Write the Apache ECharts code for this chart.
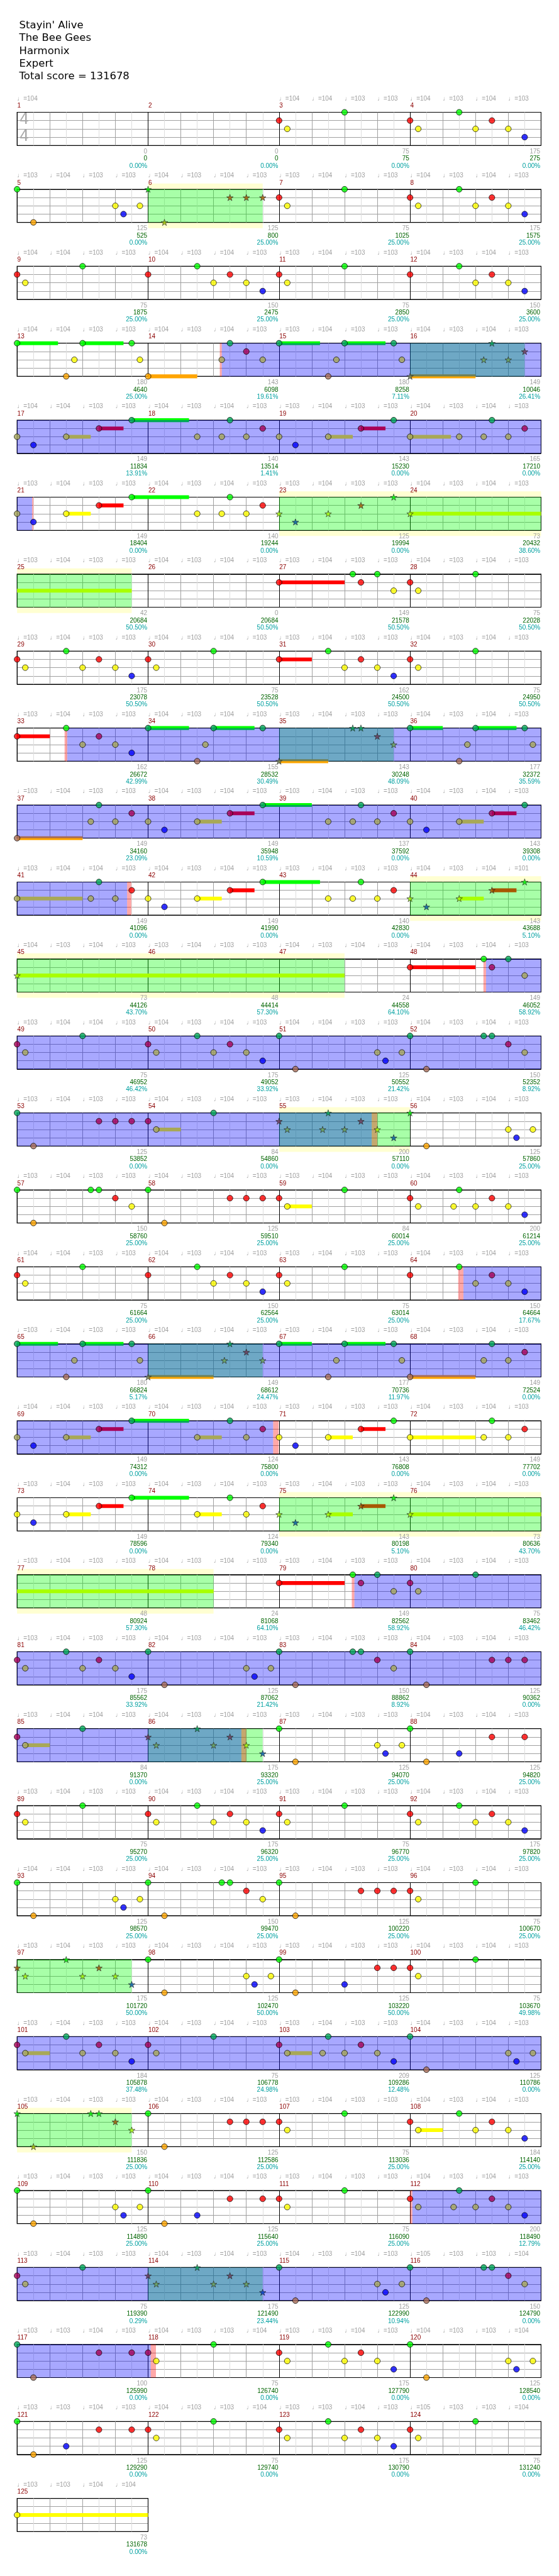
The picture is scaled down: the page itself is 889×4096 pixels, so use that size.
<!DOCTYPE html>
<html>
<head>
<meta charset="utf-8">
<script src="https://cdn.jsdelivr.net/npm/echarts@6/dist/echarts.min.js"></script>
<style>
html,body{margin:0;padding:0;background:#ffffff;}
#chart{width:889px;height:4096px;}
</style>
</head>
<body>
<div id="chart"></div>
<script>
// ================= DATA =================
const titleLines = ["Stayin' Alive", "The Bee Gees", "Harmonix", "Expert", "Total score = 131678"];
const measureCount = 125;

// tempo marks per measure, one per beat
const tempoLabels = [
  "104", "", "104 104 103 103", "104 103 104 103",
  "103 104 103 103", "104 103 104 103", "103 104 103 103", "104 103 104 103",
  "104 104 103 103", "104 103 104 103", "103 104 103 103", "104 103 104 103",
  "104 104 103 103", "104 103 104 103", "103 104 103 103", "104 103 104 103",
  "104 104 103 103", "104 103 104 103", "103 104 103 103", "104 103 104 103",
  "103 104 103 103", "104 103 104 103", "103 104 103 103", "104 103 104 103",
  "103 104 103 103", "104 103 104 103", "103 104 103 103", "104 103 104 103",
  "103 104 103 103", "104 103 104 103", "103 104 103 103", "104 103 104 103",
  "103 104 103 103", "104 103 104 103", "103 104 103 103", "104 103 104 103",
  "103 104 103 103", "104 103 104 103", "103 104 103 103", "104 103 104 103",
  "103 104 104 103", "104 103 104 103", "103 104 103 103", "104 103 104 101",
  "104 103 104 103", "103 104 103 103", "104 103 104 103", "104 103 104 103",
  "103 104 104 103", "104 103 104 103", "104 104 103 103", "104 103 104 103",
  "103 104 103 103", "104 103 104 103", "103 104 103 103", "104 103 104 103",
  "103 104 103 103", "104 103 104 103", "103 104 103 103", "104 103 104 103",
  "104 104 103 103", "104 103 104 103", "103 104 103 103", "104 103 104 103",
  "103 104 103 103", "104 103 104 103", "103 104 103 103", "104 103 104 103",
  "104 104 103 103", "104 103 104 103", "103 104 103 103", "104 103 104 103",
  "103 104 103 103", "104 103 104 103", "103 104 103 103", "104 103 104 103",
  "103 104 103 103", "104 103 104 103", "103 104 103 103", "104 103 104 103",
  "103 104 103 103", "104 103 104 103", "103 104 103 103", "104 103 104 103",
  "103 104 104 103", "104 103 104 103", "103 104 103 103", "104 103 104 103",
  "103 104 103 103", "104 103 104 103", "103 104 103 103", "104 103 104 103",
  "104 104 103 103", "104 103 104 103", "103 104 103 103", "104 103 104 103",
  "103 104 103 103", "104 103 104 103", "103 104 103 103", "104 103 104 103",
  "103 104 103 103", "104 103 104 103", "103 104 103 103", "104 103 104 103",
  "103 104 103 103", "104 103 104 103", "103 104 103 103", "104 103 104 103",
  "103 104 103 103", "104 103 104 103", "103 104 103 103", "104 103 104 103",
  "103 104 103 103", "104 103 104 103", "104 103 104 103", "105 103 103 104",
  "103 103 104 103", "104 103 103 104", "103 103 104 103", "104 103 103 104",
  "103 103 104 103", "104 103 103 104", "103 103 104 103", "105 103 103 104",
  "103 103 104 104"
];

// per-measure base score (grey), running total (green), SP percentage (teal)
const measureScores = [
  0, 0, 75, 175,  125, 125, 75, 175,  75, 150, 75, 150,  180, 143, 180, 149,
  149, 140, 143, 165,  149, 140, 125, 73,  42, 0, 149, 75,  175, 75, 162, 75,
  162, 155, 143, 177,  149, 149, 137, 143,  149, 149, 140, 143,  73, 48, 24, 149,
  75, 175, 125, 150,  125, 84, 200, 125,  150, 125, 84, 200,  75, 150, 75, 150,
  180, 149, 177, 149,  149, 124, 143, 149,  149, 124, 143, 73,  48, 24, 149, 75,
  175, 125, 150, 125,  84, 175, 125, 125,  75, 175, 75, 175,  125, 150, 125, 75,
  175, 125, 125, 75,  184, 75, 209, 125,  150, 125, 75, 184,  125, 125, 75, 200,
  75, 175, 125, 150,  100, 75, 175, 125,  125, 75, 175, 75,  73
];
const totalScores = [
  0, 0, 75, 275,  525, 800, 1025, 1575,  1875, 2475, 2850, 3600,
  4640, 6098, 8258, 10046,  11834, 13514, 15230, 17210,  18404, 19244, 19994, 20432,
  20684, 20684, 21578, 22028,  23078, 23528, 24500, 24950,  26672, 28532, 30248, 32372,
  34160, 35948, 37592, 39308,  41096, 41990, 42830, 43688,  44126, 44414, 44558, 46052,
  46952, 49052, 50552, 52352,  53852, 54860, 57110, 57860,  58760, 59510, 60014, 61214,
  61664, 62564, 63014, 64664,  66824, 68612, 70736, 72524,  74312, 75800, 76808, 77702,
  78596, 79340, 80198, 80636,  80924, 81068, 82562, 83462,  85562, 87062, 88862, 90362,
  91370, 93320, 94070, 94820,  95270, 96320, 96770, 97820,  98570, 99470, 100220, 100670,
  101720, 102470, 103220, 103670,  105878, 106778, 109286, 110786,  111836, 112586, 113036, 114140,
  114890, 115640, 116090, 118490,  119390, 121490, 122990, 124790,  125990, 126740, 127790, 128540,
  129290, 129740, 130790, 131240,  131678
];
const spPercents = [
  "0.00", "0.00", "0.00", "0.00",  "0.00", "25.00", "25.00", "25.00",  "25.00", "25.00", "25.00", "25.00",
  "25.00", "19.61", "7.11", "26.41",  "13.91", "1.41", "0.00", "0.00",  "0.00", "0.00", "0.00", "38.60",
  "50.50", "50.50", "50.50", "50.50",  "50.50", "50.50", "50.50", "50.50",  "42.99", "30.49", "48.09", "35.59",
  "23.09", "10.59", "0.00", "0.00",  "0.00", "0.00", "0.00", "5.10",  "43.70", "57.30", "64.10", "58.92",
  "46.42", "33.92", "21.42", "8.92",  "0.00", "0.00", "0.00", "25.00",  "25.00", "25.00", "25.00", "25.00",
  "25.00", "25.00", "25.00", "17.67",  "5.17", "24.47", "11.97", "0.00",  "0.00", "0.00", "0.00", "0.00",
  "0.00", "0.00", "5.10", "43.70",  "57.30", "64.10", "58.92", "46.42",  "33.92", "21.42", "8.92", "0.00",
  "0.00", "25.00", "25.00", "25.00",  "25.00", "25.00", "25.00", "25.00",  "25.00", "25.00", "25.00", "25.00",
  "50.00", "50.00", "50.00", "49.98",  "37.48", "24.98", "12.48", "0.00",  "25.00", "25.00", "25.00", "25.00",
  "25.00", "25.00", "25.00", "12.79",  "0.29", "23.44", "10.94", "0.00",  "0.00", "0.00", "0.00", "0.00",
  "0.00", "0.00", "0.00", "0.00",  "0.00"
];

// notes: [measure, beat in measure, lane (0 green,1 red,2 yellow,3 blue,4 orange), sustain length in beats]
const notes = [
  [3,0,1],[3,0.25,2],[3,2,0],
  [4,0,1],[4,0.25,2],[4,1.5,0],[4,2,2],[4,2.5,1],[4,3,2],[4,3.5,3],
  [5,0,0],[5,0.5,4],[5,3,2],[5,3.25,3],[5,3.75,2],
  [6,0,0],[6,0.5,4],[6,2.5,1],[6,3,1],[6,3.5,1],
  [7,0,1],[7,0.25,2],[7,2,0],
  [8,0,1],[8,0.25,2],[8,1.5,0],[8,2,2],[8,2.5,1],[8,3,2],[8,3.5,3],
  [9,0,1],[9,0.25,2],[9,2,0],
  [10,0,1],[10,1.5,0],[10,2,2],[10,2.5,1],[10,3,2],[10,3.5,3],
  [11,0,1],[11,0.25,2],[11,2,0],
  [12,0,1],[12,1.5,0],[12,2,2],[12,2.5,1],[12,3,2],[12,3.5,3],
  [13,0,0,1.25],[13,1.5,4],[13,1.75,2],[13,2,0,1.25],[13,3.5,0],[13,3.75,2],
  [14,0,4,1.5],[14,2.25,2],[14,2.5,0],[14,3,1],[14,3.5,2],
  [15,0,0,1.25],[15,1.5,4],[15,1.75,2],[15,2,0,1.25],[15,3.5,0],[15,3.75,2],
  [16,0,4,2],[16,2.25,2],[16,2.5,0],[16,3,2],[16,3.5,1],
  [17,0,2],[17,0.5,3],[17,1.5,2,0.75],[17,2.5,1,0.75],[17,3.5,0,1.75],
  [18,1.5,2],[18,2.25,2],[18,2.5,0],[18,3,2],[18,3.5,1],
  [19,0,2],[19,0.5,3],[19,1.5,2,0.75],[19,2.5,1,0.75],[19,3.5,0],
  [20,0,2,1.25],[20,1.5,2],[20,2.25,2],[20,2.5,0],[20,3,2],[20,3.5,1],
  [21,0,2],[21,0.5,3],[21,1.5,2,0.75],[21,2.5,1,0.75],[21,3.5,0,1.75],
  [22,1.5,2],[22,2.25,2],[22,2.5,0],[22,3,2],[22,3.5,1],
  [23,0,2],[23,0.5,3],[23,1.5,2],[23,2.5,1],[23,3.5,0],
  [24,0,2,7.5],
  [27,0,1,2],[27,2.25,0],[27,2.5,1],[27,3,0],[27,3.5,2],
  [28,0,1],[28,0.25,2],[28,2,0],
  [29,0,1],[29,0.25,2],[29,1.5,0],[29,2,2],[29,2.5,1],[29,3,2],[29,3.5,3],
  [30,0,1],[30,0.25,2],[30,2,0],
  [31,0,1,1],[31,1.5,0],[31,2,2],[31,2.5,1],[31,3,2],[31,3.5,3],
  [32,0,1],[32,0.25,2],[32,2,0],
  [33,0,1,1],[33,1.5,0],[33,2,2],[33,2.5,1],[33,3,2],[33,3.5,3],
  [34,0,0,1.25],[34,1.5,4],[34,1.75,2],[34,2,0,1.25],[34,3.5,0],
  [35,0,4,1.5],[35,2.25,0],[35,2.5,0],[35,3,1],[35,3.5,2],
  [36,0,0,1],[36,1.5,4],[36,1.75,2],[36,2,0,1.25],[36,3.5,0],[36,3.75,2],
  [37,0,4,2],[37,2.25,2],[37,2.5,0],[37,3,2],[37,3.5,1],
  [38,0,2],[38,0.5,3],[38,1.5,2,0.75],[38,2.5,1,0.75],[38,3.5,0,1.5],
  [39,1.5,2],[39,2.25,2],[39,2.5,0],[39,3,2],[39,3.5,1],
  [40,0,2],[40,0.5,3],[40,1.5,2,0.75],[40,2.5,1,0.75],[40,3.5,0],
  [41,0,2,2],[41,2.25,2],[41,2.5,0],[41,3,2],[41,3.5,1],
  [42,0,2],[42,0.5,3],[42,1.5,2,0.75],[42,2.5,1,0.75],[42,3.5,0,1.75],
  [43,1.5,2],[43,2.25,2],[43,2.5,0],[43,3,2],[43,3.5,1],
  [44,0,2],[44,0.5,3],[44,1.5,2,0.75],[44,2.5,1,0.75],[44,3.5,0],
  [45,0,2,10],
  [48,0,1,2],[48,2.25,0],[48,2.5,1],[48,3,0],[48,3.5,2],
  [49,0,1],[49,0.25,2],[49,2,0],
  [50,0,1],[50,0.25,2],[50,1.5,0],[50,2,2],[50,2.5,1],[50,3,2],[50,3.5,3],
  [51,0,0],[51,0.5,4],[51,3,2],[51,3.25,3],[51,3.75,2],
  [52,0,0],[52,0.5,4],[52,2.25,0],[52,2.5,0],[52,3,1],[52,3.5,2],
  [53,0,0],[53,0.5,4],[53,2.5,1],[53,3,1],[53,3.5,1],
  [54,0,1],[54,0.25,2,0.75],[54,2,0],
  [55,0,1],[55,0.25,2],[55,1.33,2],[55,1.5,0],[55,2,2],[55,2.5,1],[55,3,2],[55,3.5,3],
  [56,0,0],[56,0.5,4],[56,3,2],[56,3.25,3],[56,3.75,2],
  [57,0,0],[57,0.5,4],[57,2.25,0],[57,2.5,0],[57,3,1],[57,3.5,2],
  [58,0,0],[58,0.5,4],[58,2.5,1],[58,3,1],[58,3.5,1],
  [59,0,1],[59,0.25,2,0.75],[59,2,0],
  [60,0,1],[60,0.25,2],[60,1.33,2],[60,1.5,0],[60,2,2],[60,2.5,1],[60,3,2],[60,3.5,3],
  [61,0,1],[61,0.25,2],[61,2,0],
  [62,0,1],[62,1.5,0],[62,2,2],[62,2.5,1],[62,3,2],[62,3.5,3],
  [63,0,1],[63,0.25,2],[63,2,0],
  [64,0,1],[64,1.5,0],[64,2,2],[64,2.5,1],[64,3,2],[64,3.5,3],
  [65,0,0,1.25],[65,1.5,4],[65,1.75,2],[65,2,0,1.25],[65,3.5,0],[65,3.75,2],
  [66,0,4,2],[66,2.33,2],[66,2.5,0],[66,3,1],[66,3.5,2],
  [67,0,0,1],[67,1.5,4],[67,1.75,2],[67,2,0,1.25],[67,3.5,0],[67,3.75,2],
  [68,0,4,2],[68,2.25,2],[68,2.5,0],[68,3,2],[68,3.5,1],
  [69,0,2],[69,0.5,3],[69,1.5,2,0.75],[69,2.5,1,0.75],[69,3.5,0,1.75],
  [70,1.5,2,0.75],[70,2.5,0],[70,3,2],[70,3.5,1],
  [71,0,2],[71,0.5,3],[71,1.5,2,0.75],[71,2.5,1,0.75],[71,3.5,0],
  [72,0,2,2],[72,2.25,2],[72,2.5,0],[72,3,2],[72,3.5,1],
  [73,0,2],[73,0.5,3],[73,1.5,2,0.75],[73,2.5,1,0.75],[73,3.5,0,1.75],
  [74,1.5,2,0.75],[74,2.5,0],[74,3,2],[74,3.5,1],
  [75,0,2],[75,0.5,3],[75,1.5,2,0.75],[75,2.5,1,0.75],[75,3.5,0],
  [76,0,2,10],
  [79,0,1,2],[79,2.25,0],[79,2.5,1],[79,3,0],[79,3.5,2],
  [80,0,1],[80,0.25,2],[80,2,0],
  [81,0,1],[81,0.25,2],[81,1.5,0],[81,2,2],[81,2.5,1],[81,3,2],[81,3.5,3],
  [82,0,0],[82,0.5,4],[82,3,2],[82,3.25,3],[82,3.75,2],
  [83,0,0],[83,0.5,4],[83,2.25,0],[83,2.5,0],[83,3,1],[83,3.5,2],
  [84,0,0],[84,0.5,4],[84,2.5,1],[84,3,1],[84,3.5,1],
  [85,0,1],[85,0.25,2,0.75],[85,2,0],
  [86,0,1],[86,0.25,2],[86,1.5,0],[86,2,2],[86,2.5,1],[86,3,2],[86,3.5,3],
  [87,0,0],[87,0.5,4],[87,3,2],[87,3.25,3],[87,3.75,2],
  [88,0,0],[88,0.5,4],[88,1.5,3],[88,2.5,1],[88,3.5,1],
  [89,0,1],[89,0.25,2],[89,2,0],
  [90,0,1],[90,0.25,2],[90,1.5,0],[90,2,2],[90,2.5,1],[90,3,2],[90,3.5,3],
  [91,0,1],[91,0.25,2],[91,2,0],
  [92,0,1],[92,0.25,2],[92,1.5,0],[92,2,2],[92,2.5,1],[92,3,2],[92,3.5,3],
  [93,0,0],[93,0.5,4],[93,3,2],[93,3.25,3],[93,3.75,2],
  [94,0,0],[94,0.5,4],[94,2.25,0],[94,2.5,0],[94,3,1],[94,3.5,2],
  [95,0,0],[95,0.5,4],[95,2.5,1],[95,3,1],[95,3.5,1],
  [96,0,1],[96,0.25,2],[96,2,0],
  [97,0,1],[97,0.25,2],[97,1.5,0],[97,2,2],[97,2.5,1],[97,3,2],[97,3.5,3],
  [98,0,0],[98,0.5,4],[98,3,2],[98,3.25,3],[98,3.75,2],
  [99,0,0],[99,0.5,4],[99,2,3],[99,3,1],[99,3.5,1],
  [100,0,1],[100,0.25,2],[100,2,0],
  [101,0,1],[101,0.25,2,0.75],[101,1.5,0],[101,2,2],[101,2.5,1],[101,3,2],[101,3.5,3],
  [102,0,1],[102,0.25,2],[102,2,0],
  [103,0,1],[103,0.25,2,0.75],[103,1.33,2],[103,1.5,0],[103,2,2],[103,2.5,1],[103,3,2],[103,3.5,3],
  [104,0,0],[104,0.5,4],[104,3,2],[104,3.25,3],[104,3.75,2],
  [105,0,0],[105,0.5,4],[105,2.25,0],[105,2.5,0],[105,3,1],[105,3.5,2],
  [106,0,0],[106,0.5,4],[106,2.5,1],[106,3,1],[106,3.5,1],
  [107,0,1],[107,0.25,2],[107,2,0],
  [108,0,1],[108,0.25,2,0.75],[108,1.5,0],[108,2,2],[108,2.5,1],[108,3,2],[108,3.5,3],
  [109,0,0],[109,0.5,4],[109,3,2],[109,3.25,3],[109,3.75,2],
  [110,0,0],[110,0.5,4],[110,1.5,3],[110,2.5,1],[110,3.5,1],
  [111,0,1],[111,0.25,2],[111,2,0],
  [112,0,1],[112,0.25,2],[112,1.33,2],[112,1.5,0],[112,2,2],[112,2.5,1],[112,3,2],[112,3.5,3],
  [113,0,1],[113,0.25,2],[113,2,0],
  [114,0,1],[114,0.25,2],[114,1.5,0],[114,2,2],[114,2.5,1],[114,3,2],[114,3.5,3],
  [115,0,0],[115,0.5,4],[115,3,2],[115,3.25,3],[115,3.75,2],
  [116,0,0],[116,0.5,4],[116,2.25,0],[116,2.5,0],[116,3,1],[116,3.5,2],
  [117,0,0],[117,0.5,4],[117,2.5,1],[117,3.5,1],
  [118,0,1],[118,0.25,2],[118,2,0],
  [119,0,1],[119,0.25,2],[119,1.5,0],[119,2,2],[119,2.5,1],[119,3,2],[119,3.5,3],
  [120,0,0],[120,0.5,4],[120,3,2],[120,3.25,3],[120,3.75,2],
  [121,0,0],[121,0.5,4],[121,1.5,3],[121,2.5,1],[121,3.5,1],
  [122,0,1],[122,0.25,2],[122,2,0],
  [123,0,1],[123,0.25,2],[123,1.5,0],[123,2,2],[123,2.5,1],[123,3,2],[123,3.5,3],
  [124,0,1],[124,0.25,2],[124,2,0],
  [125,0,2,4]
];

// shaded spans: [startMeasure, startBeat, endMeasure, endBeat]
const greenRegions = [
  [6,0,6,3.5],[16,0,16,3.5],[23,0,25,3.5],[35,0,35,3.5],[44,0,47,2],[55,0,56,0],
  [66,0,66,3.5],[75,0,78,2],[86,0,86,3.5],[97,0,97,3.5],[105,0,105,3.5],[114,0,114,3.5]
];
const yellowBands = [
  [6,0,6,3.5],[23,0,25,3.5],[44,0,47,2],[55,0,56,0],[75,0,78,2],[105,0,105,3.5]
];
const blueRegions = [
  [14,2.25,21,0.46],[33,1.53,41,3.36],[48,2.32,55,2.83],[64,1.63,70,3.82],
  [79,2.3,86,2.85],[101,0,104,3.99],[112,0.07,118,0.08]
];
const pinkMarkers = [
  [14,2.19,14,2.25],[21,0.46,21,0.5],[33,1.45,33,1.53],[41,3.36,41,3.49],
  [48,2.24,48,2.32],[55,2.83,55,3.0],[64,1.47,64,1.63],[70,3.82,70,3.99],
  [79,2.22,79,2.3],[86,2.85,86,3.0],[112,0,112,0.07],[118,0.08,118,0.24]
];

// ================= LAYOUT / STYLE =================
const S = 0.868;
const LEFT = 31.3, TOP0 = 205.7, STEP = 141, TRACK_H = 60.7, MEAS_W = 240;
const BEATS = 4, PER_ROW = 4, ROW_BEATS = BEATS * PER_ROW;
const nRows = Math.ceil(measureCount / PER_ROW);
const LANE_RGB = [[0,255,0],[255,0,0],[255,255,0],[0,0,255],[255,165,0]];
const GREEN_OV = [0,255,0], BLUE_OV = [0,0,255], OV_A = 0.34;
const STAR = 'path://M50 0L61.2 34.5L97.6 34.5L68.2 55.9L79.4 90.5L50 69.1L20.6 90.5L31.8 55.9L2.4 34.5L38.8 34.5Z';
const SMALL_FONT = '10px "Liberation Sans", Arial, sans-serif';

const rgb = c => 'rgb(' + c[0] + ',' + c[1] + ',' + c[2] + ')';
const mix = (c, o, a) => c.map((v, i) => Math.round(v * (1 - a) + o[i] * a));
const gbOf = (m, b) => (m - 1) * BEATS + b;
const toGB = list => list.map(r => [gbOf(r[0], r[1]), gbOf(r[2], r[3])]);
const G_R = toGB(greenRegions), B_R = toGB(blueRegions), P_R = toGB(pinkMarkers), Y_R = toGB(yellowBands);
const inside = (list, g) => list.some(r => g >= r[0] - 1e-6 && g <= r[1] + 1e-6);

function splitRows(g0, g1, cb) {
  const r0 = Math.floor(g0 / ROW_BEATS), r1 = Math.floor((g1 - 1e-9) / ROW_BEATS);
  for (let r = r0; r <= r1; r++) {
    const a = Math.max(g0, r * ROW_BEATS) - r * ROW_BEATS;
    const b = Math.min(g1, (r + 1) * ROW_BEATS) - r * ROW_BEATS;
    if (b > a) cb(r, a, b);
  }
}

const rows = Array.from({length: nRows}, () => ({bands: [], sus: [], ov: [], notes: [], texts: []}));
Y_R.forEach(([a, b]) => splitRows(a, b, (r, x0, x1) => rows[r].bands.push([x0, x1])));
G_R.forEach(([a, b]) => splitRows(a, b, (r, x0, x1) => rows[r].ov.push([x0, x1, 0])));
B_R.forEach(([a, b]) => splitRows(a, b, (r, x0, x1) => rows[r].ov.push([x0, x1, 1])));
P_R.forEach(([a, b]) => splitRows(a, b, (r, x0, x1) => rows[r].ov.push([x0, x1, 2])));

notes.forEach(([m, b, lane, len]) => {
  const g = gbOf(m, b);
  const r = Math.floor(g / ROW_BEATS);
  const star = inside(G_R, g);
  let c = LANE_RGB[lane];
  if (star) c = mix(c, GREEN_OV, OV_A);
  if (inside(B_R, g)) c = mix(c, BLUE_OV, OV_A);
  rows[r].notes.push({
    value: [g - r * ROW_BEATS, lane],
    symbol: star ? STAR : 'circle',
    symbolSize: star ? [10.4, 10] : 9.2,
    itemStyle: {color: rgb(c), borderColor: star ? '#202020' : '#000', borderWidth: star ? 0.8 : 0.9}
  });
  if (len) splitRows(g, g + len, (rr, x0, x1) => rows[rr].sus.push([x0, x1, lane]));
});

for (let m = 1; m <= measureCount; m++) {
  const r = Math.floor((m - 1) / PER_ROW);
  const mx = ((m - 1) % PER_ROW) * BEATS;
  const T = rows[r].texts;
  T.push({x: mx, top: true, dx: 0.5, dy: -11.7, text: String(m), color: '#8b0000', align: 'left', font: SMALL_FONT});
  tempoLabels[m - 1].split(' ').filter(Boolean).forEach((t, i) => {
    T.push({x: mx + i, top: true, dx: 0, dy: -24.7, text: '\u2669=' + t, color: '#a0a0a0', align: 'left', font: SMALL_FONT});
  });
  const ex = mx + BEATS;
  T.push({x: ex, top: false, dx: -1.5, dy: 11.4, text: String(measureScores[m - 1]), color: '#a0a0a0', align: 'right', font: SMALL_FONT});
  T.push({x: ex, top: false, dx: -1.5, dy: 24.7, text: String(totalScores[m - 1]), color: '#006400', align: 'right', font: SMALL_FONT});
  T.push({x: ex, top: false, dx: -1.5, dy: 37.7, text: spPercents[m - 1] + '%', color: '#00a0a0', align: 'right', font: SMALL_FONT});
}
// time signature 4/4
rows[0].texts.push({x: 0, top: true, dx: 13.3, dy: 14.5, text: '4', color: '#a8a8a8', align: 'center', font: '24px "DejaVu Sans", sans-serif'});
rows[0].texts.push({x: 0, top: true, dx: 13.3, dy: 44.8, text: '4', color: '#a8a8a8', align: 'center', font: '24px "DejaVu Sans", sans-serif'});

// ================= OPTION =================
const grid = [], xAxis = [], yAxis = [], series = [];
const X_LINE_COLORS = ['#000000', '#dedede', '#a0a0a0', '#dedede', '#a0a0a0', '#dedede', '#a0a0a0', '#dedede'];
const Y_LINE_COLORS = ['#000000', '#a0a0a0', '#a0a0a0', '#a0a0a0', '#000000'];

for (let r = 0; r < nRows; r++) {
  const nMeas = Math.min(PER_ROW, measureCount - r * PER_ROW);
  grid.push({
    left: LEFT * S, top: (TOP0 + r * STEP) * S, width: nMeas * MEAS_W * S, height: TRACK_H * S,
    show: true, backgroundColor: '#ffffff', borderColor: '#000000', borderWidth: 1.1, containLabel: false
  });
  xAxis.push({
    gridIndex: r, type: 'value', min: 0, max: nMeas * BEATS, interval: 0.5,
    axisLine: {show: false}, axisTick: {show: false}, axisLabel: {show: false},
    splitLine: {show: true, lineStyle: {color: X_LINE_COLORS, width: 1}}
  });
  yAxis.push({
    gridIndex: r, type: 'value', min: 0, max: 4, interval: 1, inverse: true,
    axisLine: {show: false}, axisTick: {show: false}, axisLabel: {show: false},
    splitLine: {show: true, lineStyle: {color: Y_LINE_COLORS, width: 1}}
  });
  const row = rows[r];
  series.push({
    type: 'custom', xAxisIndex: r, yAxisIndex: r, z: -1, silent: true,
    data: row.bands,
    renderItem: (p, api) => {
      const a = api.coord([api.value(0), 0]), b = api.coord([api.value(1), 4]);
      const pad = 10.5 * S;
      return {type: 'rect', shape: {x: a[0], y: a[1] - pad, width: b[0] - a[0], height: b[1] - a[1] + 2 * pad},
        style: {fill: '#ffffd2'}};
    }
  });
  series.push({
    type: 'custom', xAxisIndex: r, yAxisIndex: r, z: 2, silent: true,
    data: row.sus,
    renderItem: (p, api) => {
      const lane = api.value(2);
      const a = api.coord([api.value(0), lane]), b = api.coord([api.value(1), lane]);
      const h = 7 * S;
      return {type: 'rect', shape: {x: a[0], y: a[1] - h / 2, width: b[0] - a[0], height: h},
        style: {fill: rgb(LANE_RGB[lane])}};
    }
  });
  series.push({
    type: 'custom', xAxisIndex: r, yAxisIndex: r, z: 3, silent: true,
    data: row.ov,
    renderItem: (p, api) => {
      const k = api.value(2);
      const a = api.coord([api.value(0), 0]), b = api.coord([api.value(1), 4]);
      const fills = ['rgba(0,255,0,0.34)', 'rgba(0,0,255,0.34)', 'rgba(255,0,0,0.34)'];
      return {type: 'rect', shape: {x: a[0], y: a[1], width: b[0] - a[0], height: b[1] - a[1]},
        style: {fill: fills[k]}};
    }
  });
  series.push({
    type: 'scatter', xAxisIndex: r, yAxisIndex: r, z: 4, silent: true, clip: false,
    data: row.notes
  });
  const texts = row.texts;
  series.push({
    type: 'custom', xAxisIndex: r, yAxisIndex: r, z: 6, silent: true,
    data: texts.map(t => [t.x, t.top ? 0 : 4]),
    renderItem: (p, api) => {
      const t = texts[p.dataIndex];
      const pt = api.coord([t.x, t.top ? 0 : 4]);
      return {type: 'text', x: pt[0] + t.dx * S, y: pt[1] + t.dy * S,
        style: {text: t.text, fill: t.color, font: t.font, align: t.align, verticalAlign: 'middle'}};
    }
  });
}

const option = {
  backgroundColor: '#ffffff',
  animation: false,
  title: {
    text: titleLines.join('\n'), left: 29.5 * S, top: 30 * S,
    textStyle: {fontFamily: 'DejaVu Sans', fontSize: 19 * S, fontWeight: 'normal', color: '#000', lineHeight: 23.15 * S}
  },
  grid, xAxis, yAxis, series
};

const chart = echarts.init(document.getElementById('chart'), null, {renderer: 'canvas'});
chart.setOption(option);
</script>
</body>
</html>
